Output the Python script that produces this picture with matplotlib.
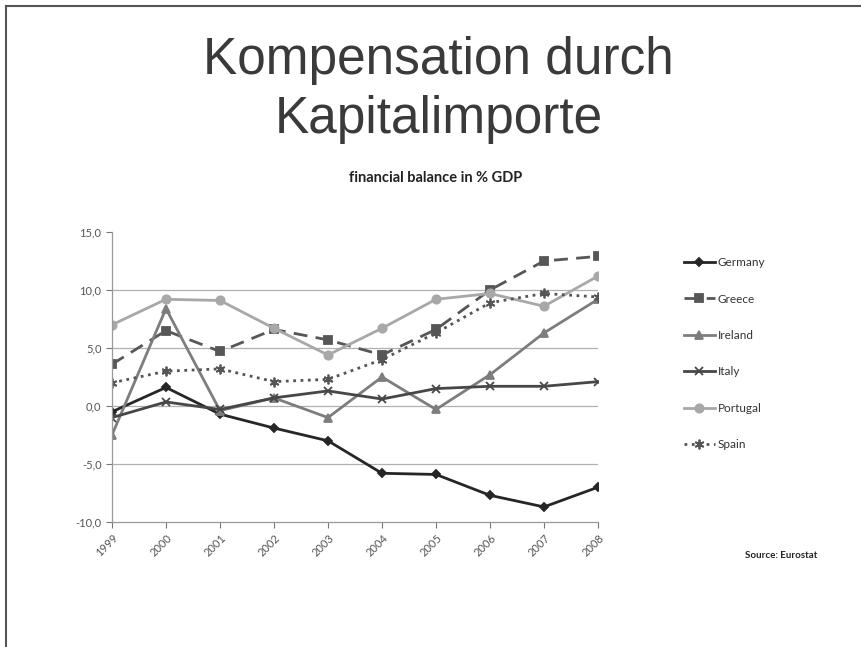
import matplotlib.pyplot as plt
from matplotlib.lines import Line2D

years = ['1999', '2000', '2001', '2002', '2003', '2004', '2005', '2006', '2007', '2008']

germany = [-0.5, 1.6, -0.7, -1.9, -3.0, -5.8, -5.9, -7.7, -8.7, -7.0]
greece = [3.6, 6.5, 4.7, 6.6, 5.7, 4.4, 6.6, 10.0, 12.5, 12.9]
ireland = [-2.5, 8.4, -0.4, 0.7, -1.0, 2.5, -0.3, 2.7, 6.3, 9.2]
italy = [-1.0, 0.35, -0.3, 0.7, 1.3, 0.6, 1.5, 1.7, 1.7, 2.1]
portugal = [7.0, 9.2, 9.1, 6.7, 4.4, 6.7, 9.2, 9.7, 8.6, 11.2]
spain = [2.0, 3.0, 3.2, 2.1, 2.3, 4.0, 6.3, 8.9, 9.7, 9.4]

series = [
    ('Germany', germany, '#262626', '-', 'D', 4),
    ('Greece', greece, '#575757', (0, (5, 3)), 's', 6),
    ('Ireland', ireland, '#7d7d7d', '-', '^', 6),
    ('Italy', italy, '#474747', '-', 'x', 6),
    ('Portugal', portugal, '#a8a8a8', '-', 'o', 6),
    ('Spain', spain, '#555555', ':', (6, 2, 0), 7),
]

fig = plt.figure(figsize=(8.62, 6.47), dpi=100)
fig.patch.set_facecolor('white')

# slide frame (top and left edges visible)
fig.add_artist(Line2D([6 / 862, 1], [1 - 6 / 647, 1 - 6 / 647], color='#555555', lw=1.5))
fig.add_artist(Line2D([6 / 862, 6 / 862], [0, 1 - 6 / 647], color='#555555', lw=1.5))

fig.text(0.509, 0.885, 'Kompensation durch', ha='center', va='baseline',
         fontsize=37, family='Liberation Sans', color='#3a3a3a')
fig.text(0.509, 0.795, 'Kapitalimporte', ha='center', va='baseline',
         fontsize=37, family='Liberation Sans', color='#3a3a3a')
fig.text(0.505, 0.718, 'financial balance in % GDP', ha='center', va='baseline',
         fontsize=10.5, family='Lato', fontweight='bold', color='#222222')
fig.text(0.906, 0.142, 'Source: Eurostat', ha='center', va='center',
         fontsize=7, family='Lato', fontweight='bold', color='#222222')

ax = fig.add_axes([0.1299, 0.1932, 0.5638, 0.4482])
x = list(range(len(years)))
for name, vals, col, ls, mk, ms in series:
    ax.plot(x, vals, color=col, linestyle=ls, lw=2, marker=mk, markersize=ms,
            markeredgecolor=col, markerfacecolor=col, markeredgewidth=1.3, label=name)

ax.set_xlim(0, len(years) - 1)
ax.set_ylim(-10, 15)
ax.set_yticks([-10, -5, 0, 5, 10, 15])
ax.set_yticklabels(['-10,0', '-5,0', '0,0', '5,0', '10,0', '15,0'])
ax.set_xticks(x)
ax.set_xticklabels(years, rotation=45, ha='right', rotation_mode='anchor')
ax.tick_params(axis='both', labelsize=8, colors='#777777', length=4, width=0.8)
for lab in ax.get_xticklabels() + ax.get_yticklabels():
    lab.set_color('#555555')
    lab.set_family('Lato')

for v in [-5, 0, 5, 10]:
    ax.axhline(v, color='#b0b0b0', lw=0.9, zorder=0)

for s in ['top', 'right']:
    ax.spines[s].set_visible(False)
for s in ['left', 'bottom']:
    ax.spines[s].set_color('#999999')
    ax.spines[s].set_linewidth(0.9)

leg = ax.legend(loc='upper left', bbox_to_anchor=(1.155, 0.95), frameon=False,
                labelspacing=2.15, handlelength=2.6, handletextpad=0.25,
                prop={'family': 'Lato', 'size': 8.5})
for t in leg.get_texts():
    t.set_color('#333333')

fig.savefig('out.png', dpi=100)
